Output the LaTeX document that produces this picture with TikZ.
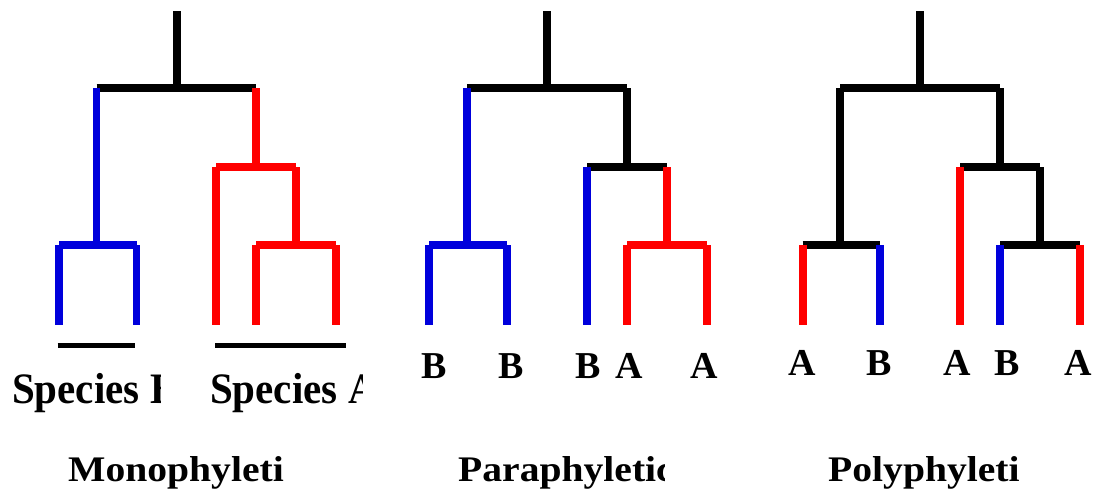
\documentclass[tikz,border=0pt]{standalone}
\usepackage{fontspec}
\setmainfont{Liberation Serif}
\usepackage{graphicx}
\definecolor{tblue}{RGB}{0,0,220}
\definecolor{tred}{RGB}{255,0,0}
\begin{document}
\begin{tikzpicture}[x=1pt,y=-1pt,
  br/.style={line width=7.8pt, line cap=butt},
  bk/.style={br, black},
  bl/.style={br, tblue},
  rd/.style={br, tred},
  bar/.style={line width=5pt, black},
  spec/.style={anchor=base west, inner sep=0pt, font=\bfseries\fontsize{41}{41}\selectfont},
  letter/.style={anchor=base, inner sep=0pt, font=\bfseries\fontsize{38}{38}\selectfont},
  title/.style={anchor=base west, inner sep=0pt, font=\bfseries\fontsize{36}{36}\selectfont}]
\useasboundingbox (0,0) rectangle (1093,491);

% ---------- Tree 1: monophyletic ----------
\coordinate (m0) at (176.7,11);
\coordinate (m1) at (176.7,88);
\draw[bk] (96.5,88) -- (256,88);
\draw[bl] (59,245) -- (136.5,245);
\draw[rd] (216,167) -- (296,167);
\draw[rd] (256,245) -- (336,245);
\draw[bk] (m0) -- (m1);
\draw[bl] (96.5,88) -- (96.5,245);
\draw[bl] (59,245) -- (59,325);
\draw[bl] (136.5,245) -- (136.5,325);
\draw[rd] (256,88) -- (256,167);
\draw[rd] (216,167) -- (216,325);
\draw[rd] (296,167) -- (296,245);
\draw[rd] (256,245) -- (256,325);
\draw[rd] (336,245) -- (336,325);
\coordinate (b1a) at (57.7,345); \coordinate (b1b) at (135,345);
\coordinate (b2a) at (215,345); \coordinate (b2b) at (345.7,345);
\draw[bar] (b1a) -- (b1b);
\draw[bar] (b2a) -- (b2b);
\begin{scope}
\clip (0,340) rectangle (160,420);
\node[spec] (sb) at (12,403) {\scalebox{1}[1.06]{Species B}};
\end{scope}
\begin{scope}
\clip (200,340) rectangle (362,420);
\node[spec] (sa) at (210,403) {\scalebox{1}[1.06]{Species A}};
\end{scope}
\node[title] (t1) at (68,481) {\scalebox{1.1}[1]{Monophyleti}};

% ---------- Tree 2: paraphyletic ----------
\draw[bk] (467,88) -- (627,88);
\draw[bl] (429,245) -- (507,245);
\draw[bk] (587,167) -- (667,167);
\draw[rd] (627,245) -- (707,245);
\draw[bk] (546.7,11) -- (546.7,88);
\draw[bl] (467,88) -- (467,245);
\draw[bl] (429,245) -- (429,325);
\draw[bl] (507,245) -- (507,325);
\draw[bk] (627,88) -- (627,167);
\draw[bl] (587,167) -- (587,325);
\draw[rd] (667,167) -- (667,245);
\draw[rd] (627,245) -- (627,325);
\draw[rd] (707,245) -- (707,325);
\node[letter] (p1) at (434,378) {B};
\node[letter] (p2) at (511,378) {B};
\node[letter] (p3) at (588,378) {B};
\node[letter] (p4) at (629,378) {A};
\node[letter] (p5) at (704,378) {A};
\begin{scope}
\clip (440,440) rectangle (664,491);
\node[title] (t2) at (458,481) {\scalebox{1.1}[1]{Paraphyletic}};
\end{scope}

% ---------- Tree 3: polyphyletic ----------
\draw[bk] (840,88) -- (1000,88);
\draw[bk] (802.7,245) -- (880,245);
\draw[bk] (960,167) -- (1040,167);
\draw[bk] (1000,245) -- (1080,245);
\draw[bk] (920,11) -- (920,88);
\draw[bk] (840,88) -- (840,245);
\draw[rd] (802.7,245) -- (802.7,325);
\draw[bl] (880,245) -- (880,325);
\draw[bk] (1000,88) -- (1000,167);
\draw[rd] (960,167) -- (960,325);
\draw[bk] (1040,167) -- (1040,245);
\draw[bl] (1000,245) -- (1000,325);
\draw[rd] (1080,245) -- (1080,325);
\node[letter] (q1) at (802,375) {A};
\node[letter] (q2) at (879,375) {B};
\node[letter] (q3) at (957,375) {A};
\node[letter] (q4) at (1007,375) {B};
\begin{scope}
\clip (1040,330) rectangle (1093,400);
\node[letter] (q5) at (1078,375) {A};
\end{scope}
\node[title] (t3) at (828,481) {\scalebox{1.1}[1]{Polyphyleti}};
\end{tikzpicture}
\end{document}
